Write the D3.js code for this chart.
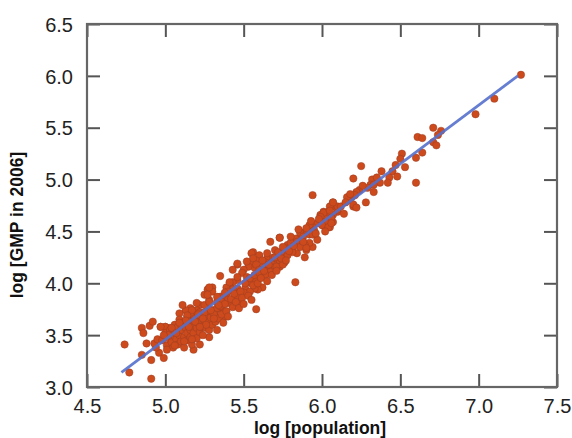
<!DOCTYPE html>
<html>
<head>
  <meta charset="utf-8">
  <script src="https://cdn.jsdelivr.net/npm/d3@7"></script>
  <style>
    body { margin:0; background:#fff; }
    .tick text { font-family: "Liberation Sans", Arial, sans-serif; font-size:20px; fill:#222; }
    .title { font-family: "Liberation Sans", Arial, sans-serif; font-size:17.5px; font-weight:bold; fill:#111; }
  </style>
</head>
<body>
<svg width="572" height="438"></svg>
<script>
// log population (x) and log GMP 2006 (y)
var logPop = [
  4.74,4.77,4.91,4.85,4.86,4.90,4.92,4.88,4.85,4.91,4.96,4.99,4.94,4.93,4.97,5.00,4.95,
  7.27,7.10,6.98,6.71,6.76,6.61,6.64,6.74,6.71,6.73,6.64,6.60,6.51,6.50,6.47,6.38,6.43,6.42,6.60,
  6.25,6.20,6.37,6.32,6.31,6.29,6.24,6.22,6.28,6.19,6.17,6.20,5.94,6.07,6.10,6.07,6.01,5.99,6.03,
  6.07,6.01,5.97,5.94,6.05,6.16,6.21,6.33,6.20,6.22,6.07,6.10,6.04,6.01,5.99,6.06,6.02,6.00,6.04,6.06,
  6.05,6.10,6.07,
  5.91,5.89,5.92,5.86,5.83,5.87,5.97,5.73,5.78,5.81,5.76,5.84,5.90,5.94,5.89,
  5.92,5.90,5.95,5.86,5.94,5.88,5.92,5.89,5.84,
  5.67,5.73,5.80,5.76,5.70,5.74,5.81,5.78,5.86,5.90,
  5.83,5.58,
  5.56,5.60,5.65,5.58,5.54,5.64,5.68,5.72,5.76,5.73,5.69,5.66,5.62,5.57,5.53,5.50,5.46,5.43,
  5.55,5.56,5.65,5.62,5.69,5.73,5.71,5.75,5.58,5.60,5.67,5.64,
  5.46,5.35,5.52,
  5.49,5.52,5.46,5.43,5.41,5.39,5.52,5.55,5.58,5.62,5.59,5.57,5.51,5.46,5.43,5.40,5.54,
  5.30,5.27,5.30,5.25,5.35,5.39,5.46,5.48,5.41,5.33,5.28,5.22,5.27,5.36,5.32,5.20,5.16,5.24,5.18,5.13,5.09,5.14,
  5.28,5.41,5.46,5.38,5.33,5.40,5.36,5.50,
  5.20,5.25,5.17,5.22,5.14,5.30,5.33,5.37,5.32,5.27,5.20,5.16,5.09,5.06,5.11,5.03,5.00,4.97,5.38,
  5.11,5.27,5.28,5.28,5.22,5.18,
  4.98,5.00,5.01,5.02,5.03,5.04,5.05,5.05,5.06,5.07,5.08,5.08,5.09,5.10,5.10,5.11,5.12,5.12,5.13,5.14,
  5.14,5.15,5.16,5.16,5.17,5.18,5.18,5.19,5.20,5.20,5.21,5.22,5.23,5.23,5.24,5.25,5.25,5.26,5.27,5.28,
  5.29,5.30,5.31,5.32,5.33,5.34,5.35,5.36,5.37,5.38,5.39,5.40,5.42,5.43,5.44,5.45,5.47,5.48,5.49,5.50,
  5.51,5.53,5.54,5.55,5.56,5.57,5.59,5.60,5.61,5.63,5.65,5.66,5.68,5.70,5.71,5.72,5.74,5.75,5.77,5.79,
  5.80,5.82,5.85,5.88,5.93,5.96,5.98,6.02,6.05,6.12,6.14,6.15,6.18,6.26,6.33,6.35,6.45,6.48,6.53,
  5.02,5.04,5.07,5.10,5.13,5.15,5.19,5.21,5.24,5.26,5.29,5.31,5.34,5.06,5.12,5.17,5.22,4.99,5.01,5.09
];
var logGmp = [
  3.41,3.14,3.08,3.57,3.52,3.59,3.63,3.42,3.31,3.26,3.33,3.28,3.38,3.42,3.58,3.58,3.46,
  6.01,5.78,5.63,5.50,5.47,5.41,5.40,5.43,5.36,5.33,5.26,5.21,5.25,5.20,5.14,5.08,5.02,4.97,4.97,
  5.13,5.01,4.97,5.00,4.95,4.92,4.90,4.88,4.78,4.83,4.80,4.74,4.85,4.78,4.69,4.66,4.69,4.66,4.64,
  4.59,4.56,4.58,4.54,4.54,4.83,4.85,4.95,4.76,4.73,4.74,4.71,4.69,4.68,4.64,4.63,4.59,4.56,4.54,4.58,
  4.74,4.74,4.78,
  4.51,4.49,4.47,4.45,4.43,4.40,4.42,4.44,4.37,4.32,4.27,4.29,4.32,4.35,4.25,
  4.56,4.53,4.51,4.49,4.47,4.45,4.39,4.37,4.40,
  4.40,4.44,4.39,4.34,4.32,4.30,4.30,4.27,4.35,4.34,
  4.01,3.75,
  4.30,4.27,4.24,4.22,4.20,4.20,4.20,4.22,4.20,4.16,4.15,4.13,4.16,4.15,4.16,4.13,4.18,4.13,
  4.29,4.24,4.29,4.22,4.25,4.22,4.16,4.18,4.18,4.13,4.11,4.08,
  4.19,4.07,4.21,
  4.10,4.06,4.03,4.01,3.98,3.96,4.01,4.00,4.03,3.96,3.94,3.95,3.95,3.95,3.94,3.92,3.92,
  3.96,3.94,3.92,3.89,3.87,3.87,3.87,3.82,3.81,3.82,3.84,3.79,3.77,3.76,3.74,3.74,3.76,3.71,3.69,3.74,3.71,3.68,
  3.96,4.01,4.06,3.91,3.87,3.84,3.82,3.91,
  3.81,3.79,3.74,3.72,3.69,3.74,3.76,3.71,3.68,3.68,3.67,3.63,3.65,3.60,3.58,3.57,3.58,3.58,3.68,
  3.79,3.89,3.82,3.48,3.41,3.36,
  3.45,3.52,3.40,3.47,3.55,3.43,3.50,3.38,3.53,3.46,3.58,3.41,3.50,3.55,3.44,3.62,3.48,3.38,3.57,3.52,
  3.45,3.63,3.55,3.48,3.41,3.60,3.52,3.66,3.57,3.47,3.62,3.53,3.68,3.58,3.50,3.64,3.72,3.57,3.62,3.55,
  3.67,3.60,3.70,3.63,3.55,3.66,3.78,3.70,3.62,3.80,3.73,3.68,3.85,3.77,3.90,3.82,3.76,3.92,3.86,3.80,
  4.00,3.88,4.05,3.84,3.98,4.08,4.00,4.10,4.05,4.12,4.02,4.18,4.08,4.25,4.12,4.30,4.24,4.35,4.22,4.31,
  4.45,4.36,4.52,4.40,4.60,4.48,4.62,4.50,4.70,4.74,4.67,4.78,4.86,4.94,4.88,5.02,5.08,5.03,5.12,
  3.50,3.57,3.52,3.60,3.64,3.58,3.63,3.70,3.66,3.60,3.74,3.66,3.79,3.40,3.44,3.46,3.58,3.50,3.36,3.62
];
// fitted regression line, end points
var fitPop = [4.72, 7.25];
var fitGmp = [3.14, 6.00];

var xTicks = [4.5, 5.0, 5.5, 6.0, 6.5, 7.0, 7.5];
var yTicks = [3.0, 3.5, 4.0, 4.5, 5.0, 5.5, 6.0, 6.5];

var plotLeft = 87, plotTop = 24, plotRight = 557, plotBottom = 387;

var x = d3.scaleLinear().domain([4.5, 7.5]).range([plotLeft, plotRight]);
var y = d3.scaleLinear().domain([3.0, 6.5]).range([plotBottom, plotTop]);

var svg = d3.select("svg");

var points = logPop.map(function(d, i) { return [d, logGmp[i]]; });

svg.append("g").selectAll("circle")
    .data(points)
    .enter().append("circle")
    .attr("cx", function(d) { return x(d[0]); })
    .attr("cy", function(d) { return y(d[1]); })
    .attr("r", 3.7)
    .attr("fill", "#cc4a1c")
    .attr("stroke", "#9c3e22")
    .attr("stroke-opacity", 0.55)
    .attr("stroke-width", 0.9);

svg.append("line")
    .attr("x1", x(fitPop[0])).attr("y1", y(fitGmp[0]))
    .attr("x2", x(fitPop[1])).attr("y2", y(fitGmp[1]))
    .attr("stroke", "#5470cc")
    .attr("stroke-opacity", 0.9)
    .attr("stroke-width", 2.8);

// axes: ticks point inward on all four sides
var tickLen = 13;
var fmt = d3.format(".1f");

var gx = svg.append("g")
    .attr("transform", "translate(0," + plotBottom + ")")
    .call(d3.axisBottom(x).tickValues(xTicks).tickFormat(fmt).tickSizeInner(-tickLen).tickSizeOuter(0));
var gy = svg.append("g")
    .attr("transform", "translate(" + plotLeft + ",0)")
    .call(d3.axisLeft(y).tickValues(yTicks).tickFormat(fmt).tickSizeInner(-tickLen).tickSizeOuter(0));
var gt = svg.append("g")
    .attr("transform", "translate(0," + plotTop + ")")
    .call(d3.axisTop(x).tickValues(xTicks).tickFormat("").tickSizeInner(-tickLen).tickSizeOuter(0));
var gr = svg.append("g")
    .attr("transform", "translate(" + plotRight + ",0)")
    .call(d3.axisRight(y).tickValues(yTicks).tickFormat("").tickSizeInner(-tickLen).tickSizeOuter(0));

[gx, gy, gt, gr].forEach(function(g) {
  g.select(".domain").remove();
  g.selectAll(".tick line").attr("stroke", "#555").attr("stroke-width", 2);
});
gx.selectAll(".tick text").attr("y", 12).attr("dy", "0.71em");
gy.selectAll(".tick text").attr("x", -14).attr("dy", "0.36em");

svg.append("rect")
    .attr("x", plotLeft).attr("y", plotTop)
    .attr("width", plotRight - plotLeft).attr("height", plotBottom - plotTop)
    .attr("fill", "none").attr("stroke", "#666").attr("stroke-width", 2.2);

svg.append("text").attr("class", "title")
    .attr("x", 320).attr("y", 434)
    .attr("text-anchor", "middle")
    .text("log [population]");
svg.append("text").attr("class", "title")
    .attr("transform", "translate(23,225) rotate(-90)")
    .attr("text-anchor", "middle")
    .text("log [GMP in 2006]");
</script>
</body>
</html>
